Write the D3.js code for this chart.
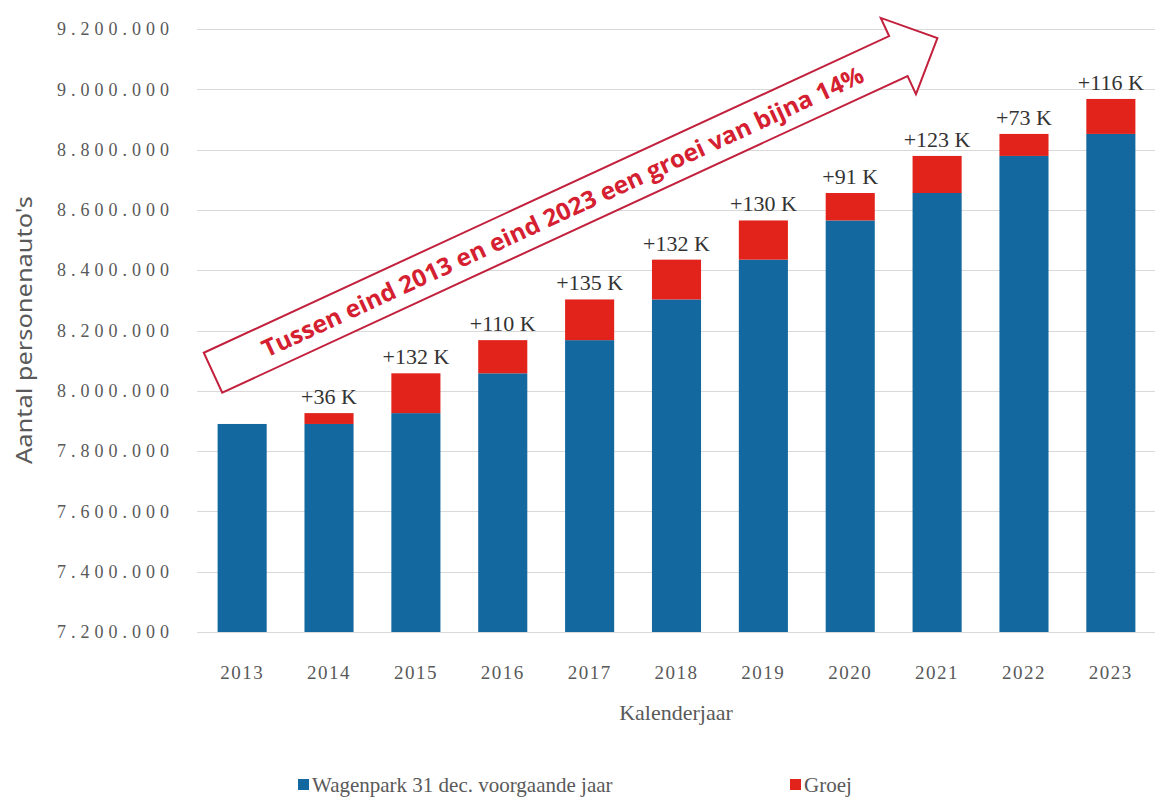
<!DOCTYPE html>
<html>
<head>
<meta charset="utf-8">
<script src="https://cdn.jsdelivr.net/npm/d3@7"></script>
<style>
  html, body { margin: 0; padding: 0; background: #ffffff; }
  svg { display: block; }
</style>
</head>
<body>
<svg id="chart" width="1155" height="801"></svg>
<script>
// ---- data ----
const years = ["2013", "2014", "2015", "2016", "2017", "2018", "2019", "2020", "2021", "2022", "2023"];
const fleetPrevYear = [7890000, 7890000, 7926000, 8058000, 8168000, 8303000, 8435000, 8565000, 8656000, 8779000, 8852000];
const growth = [0, 36000, 132000, 110000, 135000, 132000, 130000, 91000, 123000, 73000, 116000];
const growthLabels = ["", "+36 K", "+132 K", "+110 K", "+135 K", "+132 K", "+130 K", "+91 K", "+123 K", "+73 K", "+116 K"];
const yTicks = [7200000, 7400000, 7600000, 7800000, 8000000, 8200000, 8400000, 8600000, 8800000, 9000000, 9200000];
const seriesNames = ["Wagenpark 31 dec. voorgaande jaar", "Groej"];
const annotationText = "Tussen eind 2013 en eind 2023 een groei van bijna 14%";

const BLUE = "#12689f";
const RED = "#e2231c";

const svg = d3.select("#chart");

const x = d3.scaleBand().domain(years).range([198.5, 1154.5]).paddingInner(0.435).paddingOuter(0.22);
const y = d3.scaleLinear().domain([7200000, 9200000]).range([632, 29]);

const nl = d3.formatLocale({ decimal: ",", thousands: ".", grouping: [3], currency: ["€", ""] });
const fmt = nl.format(",");

// gridlines
svg.append("g").selectAll("line").data(yTicks).join("line")
  .attr("x1", 197).attr("x2", 1155)
  .attr("y1", d => Math.round(y(d)) + 0.5).attr("y2", d => Math.round(y(d)) + 0.5)
  .attr("stroke", "#d9d9d9").attr("stroke-width", 1);

// y axis labels
const yAxis = d3.axisLeft(y).tickValues(yTicks).tickFormat(fmt).tickSize(0).tickPadding(0);
const gy = svg.append("g").attr("transform", "translate(174,0)").call(yAxis);
gy.select(".domain").remove();
gy.selectAll("text")
  .attr("font-family", "Liberation Serif, serif")
  .attr("font-size", 18)
  .attr("letter-spacing", 5)
  .attr("fill", "#595959");

// y axis title
svg.append("text")
  .attr("transform", "translate(32,330) rotate(-90)")
  .attr("text-anchor", "middle")
  .attr("font-family", "Noto Sans, sans-serif")
  .attr("font-size", 21)
  .attr("fill", "#595959")
  .attr("textLength", 268)
  .attr("lengthAdjust", "spacingAndGlyphs")
  .text("Aantal personenauto's");

// bars - base
svg.append("g").selectAll("rect").data(years).join("rect")
  .attr("x", d => x(d))
  .attr("width", x.bandwidth())
  .attr("y", (d, i) => y(fleetPrevYear[i]))
  .attr("height", (d, i) => y(7200000) - y(fleetPrevYear[i]))
  .attr("fill", BLUE);

// bars - growth
svg.append("g").selectAll("rect").data(years).join("rect")
  .attr("x", d => x(d))
  .attr("width", x.bandwidth())
  .attr("y", (d, i) => y(fleetPrevYear[i] + growth[i]))
  .attr("height", (d, i) => y(fleetPrevYear[i]) - y(fleetPrevYear[i] + growth[i]))
  .attr("fill", RED);

// growth labels
svg.append("g").selectAll("text").data(years).join("text")
  .attr("x", d => x(d) + x.bandwidth() / 2)
  .attr("y", (d, i) => y(fleetPrevYear[i] + growth[i]) - 9)
  .attr("text-anchor", "middle")
  .attr("font-family", "Liberation Serif, serif")
  .attr("font-size", 22)
  .attr("fill", "#333333")
  .text((d, i) => growthLabels[i]);

// x axis labels
const xAxis = d3.axisBottom(x).tickSize(0).tickPadding(0);
const gx = svg.append("g").attr("transform", "translate(0,679)").call(xAxis);
gx.select(".domain").remove();
gx.selectAll("text")
  .attr("dy", 0)
  .attr("font-family", "Liberation Serif, serif")
  .attr("font-size", 19)
  .attr("letter-spacing", 1.5)
  .attr("fill", "#595959");

// x axis title
svg.append("text")
  .attr("x", 676).attr("y", 720)
  .attr("text-anchor", "middle")
  .attr("font-family", "Liberation Serif, serif")
  .attr("font-size", 22)
  .attr("fill", "#595959")
  .text("Kalenderjaar");

// annotation arrow
const tail = [x.range()[0] + 14.5, y(8060000)];
const angle = -24.8;
const L = 798, hw = 22, bw = 42, head = 43;
const arrow = svg.append("g").attr("transform", `translate(${tail[0]},${tail[1]}) rotate(${angle})`);
const pts = [[0, -hw], [L - head, -hw], [L - head, -bw], [L, 0], [L - head, bw], [L - head, hw], [0, hw]];
arrow.append("polygon")
  .attr("points", pts.map(p => p.join(",")).join(" "))
  .attr("fill", "#ffffff")
  .attr("fill-opacity", 0.85)
  .attr("stroke", "#c2203c")
  .attr("stroke-width", 2)
  .attr("stroke-linejoin", "miter");
arrow.append("text")
  .attr("x", 385).attr("y", 9)
  .attr("text-anchor", "middle")
  .attr("font-family", "Open Sans, sans-serif")
  .attr("font-weight", "bold")
  .attr("font-size", 24)
  .attr("fill", "#d42030")
  .attr("textLength", 660)
  .attr("lengthAdjust", "spacingAndGlyphs")
  .text(annotationText);

// legend
const legendItems = [
  { name: seriesNames[0], color: BLUE, x: 298 },
  { name: seriesNames[1], color: RED, x: 790 }
];
const lg = svg.append("g").selectAll("g").data(legendItems).join("g")
  .attr("transform", d => `translate(${d.x},785)`);
lg.append("rect").attr("x", 0).attr("y", -6).attr("width", 11).attr("height", 11).attr("fill", d => d.color);
lg.append("text")
  .attr("x", 14).attr("y", 7)
  .attr("font-family", "Liberation Serif, serif")
  .attr("font-size", 21)
  .attr("fill", "#595959")
  .text(d => d.name);
</script>
</body>
</html>
